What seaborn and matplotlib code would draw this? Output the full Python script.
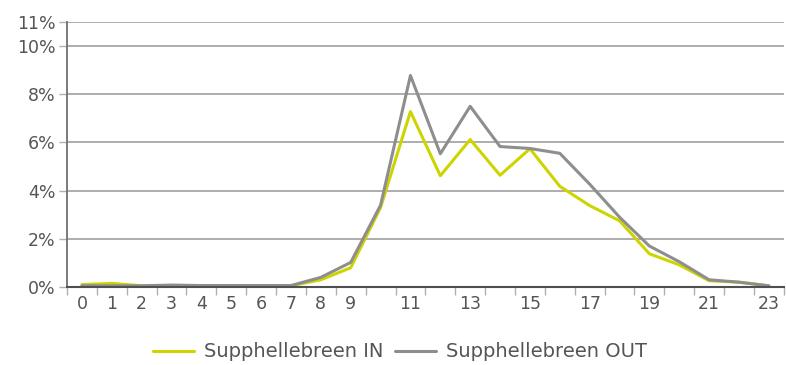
import numpy as np
import pandas as pd
import matplotlib
matplotlib.use("Agg")
import matplotlib.pyplot as plt
import seaborn as sns
from matplotlib.ticker import FixedLocator, FuncFormatter

hours = list(range(24))
tick_labels = ["0", "1", "2", "3", "4", "5", "6", "7", "8", "9", "", "11", "", "13",
               "", "15", "", "17", "", "19", "", "21", "", "23"]
share_in = [0.10, 0.15, 0.05, 0.05, 0.05, 0.05, 0.05, 0.05, 0.30, 0.80, 3.30, 7.28,
            4.62, 6.12, 4.64, 5.74, 4.18, 3.38, 2.75, 1.38, 0.92, 0.26, 0.20, 0.05]
share_out = [0.05, 0.05, 0.05, 0.08, 0.06, 0.06, 0.06, 0.06, 0.40, 1.02, 3.40, 8.78,
             5.53, 7.50, 5.83, 5.75, 5.55, 4.27, 2.90, 1.70, 1.05, 0.30, 0.20, 0.05]
series_names = ["Supphellebreen IN", "Supphellebreen OUT"]
palette = ["#cdd400", "#8e8e8e"]

df = pd.DataFrame({
    "hour": hours * 2,
    "share": share_in + share_out,
    "series": [series_names[0]] * 24 + [series_names[1]] * 24,
})

sns.set_theme(style="white")
plt.rcParams["font.family"] = ["DejaVu Sans"]

fig = plt.figure(figsize=(7.86, 3.65), dpi=100)
ax = fig.add_axes([0.0852, 0.2137, 0.912, 0.726])

sns.lineplot(data=df, x="hour", y="share", hue="series", palette=palette,
             linewidth=2.2, ax=ax, legend=True)

ax.set_xlim(-0.5, 23.5)
ax.set_ylim(0, 11)
ax.yaxis.set_major_locator(FixedLocator([0, 2, 4, 6, 8, 10, 11]))
ax.yaxis.set_major_formatter(FuncFormatter(lambda v, p: f"{v:.0f}%"))
ax.grid(axis="y", color="#a0a0a0", linewidth=1.2)
ax.set_axisbelow(True)

ax.set_xticks(hours)
ax.set_xticklabels(tick_labels)
ax.set_xticks(np.arange(-0.5, 24, 1), minor=True)
ax.tick_params(axis="x", which="major", length=0, pad=6, labelsize=12.5, labelcolor="#555555")
ax.tick_params(axis="x", which="minor", length=6, width=1, color="#b0b0b0", direction="out", bottom=True)
ax.tick_params(axis="y", which="major", length=6, width=1, color="#b0b0b0", left=True,
               pad=2, labelsize=12.5, labelcolor="#555555")

for s in ["top", "right"]:
    ax.spines[s].set_visible(False)
ax.spines["left"].set_color("#707070")
ax.spines["left"].set_linewidth(1.3)
ax.spines["bottom"].set_color("#505050")
ax.spines["bottom"].set_linewidth(1.5)
ax.set_xlabel("")
ax.set_ylabel("")

handles, labels = ax.get_legend_handles_labels()
ax.get_legend().remove()
fig.legend(handles, labels, loc="center", bbox_to_anchor=(0.509, 0.036),
           bbox_transform=fig.transFigure, ncol=2, frameon=False, fontsize=14,
           handlelength=2.1, columnspacing=0.6, handletextpad=0.5, labelcolor="#555555")

fig.savefig("out.png", dpi=100)
